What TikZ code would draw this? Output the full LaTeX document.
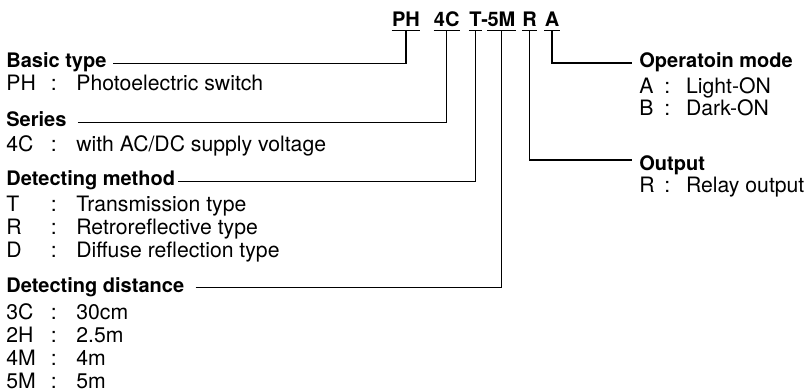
\documentclass[tikz,border=0pt]{standalone}
\usepackage{fontspec}
\setmainfont{TeX Gyre Heros}
\usepackage{tikz}

% key : text rows, left and right columns
\newcommand{\keyL}[2]{\makebox[22.2pt][l]{#1}\makebox[12.8pt][l]{:}#2}
\newcommand{\keyR}[2]{\makebox[12.5pt][l]{#1}\makebox[10.85pt][l]{:}#2}

\tikzset{
  head/.style={font=\bfseries, inner sep=0pt, anchor=base west, text height=7.5pt, text depth=3pt},
  entry/.style={inner sep=0pt, anchor=base west},
  code/.style={font=\bfseries, inner xsep=0pt, inner ysep=1.65pt, text depth=0pt, anchor=base},
  leader/.style={line width=0.6pt}
}

\begin{document}
\begin{tikzpicture}[x=0.5pt, y=-0.5pt, font=\fontsize{10.6}{12}\selectfont]
    \useasboundingbox (0,0) rectangle (807,390);
    % Type code
    \node[code] (cph) at (406,26.7) {PH};
    \node[code] (c4c) at (446.7,26.7) {4C};
    \node[code] (ct)  at (475.5,26.7) {T};
    \node[code] (cdash) at (484.8,26.7) {-};
    \node[code] (c5m) at (501.5,26.7) {5M};
    \node[code] (cr)  at (529.5,26.7) {R};
    \node[code] (ca)  at (552,26.7) {A};
    \foreach \c in {cph,c4c,ct,c5m,cr,ca}
        \draw[leader] (\c.south west) -- (\c.south east);
    % Left column
    \node[head]  (bt)  at (6,67.7)  {Basic type};
    \node[entry] (bt1) at (6,90.7)  {\keyL{PH}{Photoelectric switch}};
    \node[head]  (sr)  at (6,126.7) {Series};
    \node[entry] (sr1) at (6,151)   {\keyL{4C}{with AC/DC supply voltage}};
    \node[head]  (dm)  at (6,185.7) {Detecting method};
    \node[entry] (dm1) at (6,211.2) {\keyL{T}{Transmission type}};
    \node[entry] (dm2) at (6,234.3) {\keyL{R}{Retroreflective type}};
    \node[entry] (dm3) at (6,257.5) {\keyL{D}{Diffuse reflection type}};
    \node[head]  (dd)  at (6,292)   {Detecting distance};
    \node[entry] (dd1) at (6,319)   {\keyL{3C}{30cm}};
    \node[entry] (dd2) at (6,342)   {\keyL{2H}{2.5m}};
    \node[entry] (dd3) at (6,365)   {\keyL{4M}{4m}};
    \node[entry] (dd4) at (6,388)   {\keyL{5M}{5m}};
    % Right column
    \node[head]  (om)  at (639,67.5) {Operatoin mode};
    \node[entry] (om1) at (639,93.3) {\keyR{A}{Light-ON}};
    \node[entry] (om2) at (639,115.5){\keyR{B}{Dark-ON}};
    \node[head]  (out) at (639,170)  {Output};
    \node[entry] (out1) at (639,192) {\keyR{R}{Relay output}};
    % Leaders
    \draw[leader] ([xshift=3.3pt]bt.east) -| (cph.south);
    \draw[leader] ([xshift=5.5pt]sr.east) -| (c4c.south);
    \draw[leader] ([xshift=1.5pt]dm.east) -| (ct.south);
    \draw[leader] ([xshift=5.6pt]dd.east) -| (c5m.south);
    \draw[leader] (ca.south) |- ([xshift=-3.5pt]om.west);
    \draw[leader] (cr.south) |- ([xshift=-3.5pt,yshift=2.75pt]out.west);
\end{tikzpicture}
\end{document}
